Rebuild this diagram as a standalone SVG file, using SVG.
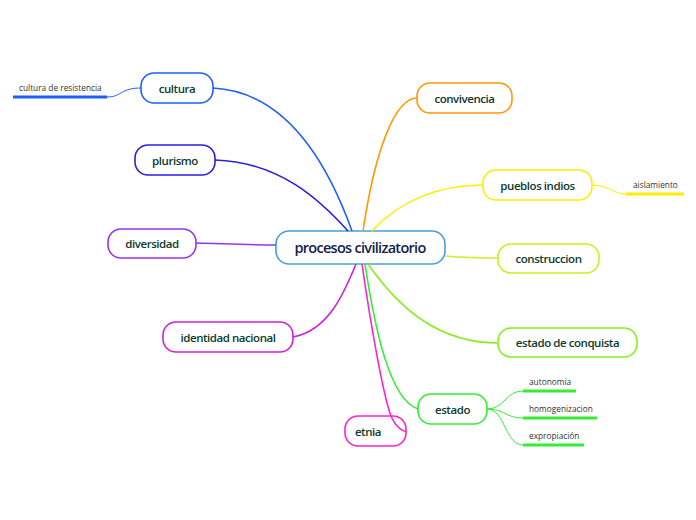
<svg xmlns="http://www.w3.org/2000/svg" width="696" height="520" viewBox="0 0 696 520">
<style>
.n{fill:#fff;stroke-width:1.6}
.t{font-family:"Open Sans","Noto Sans",sans-serif;font-size:11.5px;font-weight:600;fill:#0d3b2c;text-anchor:middle;dominant-baseline:central;letter-spacing:-0.45px}
.c{font-family:"Open Sans","Noto Sans",sans-serif;font-size:14.5px;font-weight:600;fill:#13214a;text-anchor:middle;dominant-baseline:central;letter-spacing:-0.7px}
.s{font-family:"Open Sans","Noto Sans",sans-serif;font-size:8.3px;fill:#333;dominant-baseline:central}
.l{fill:none;stroke-width:1.6}
.tl{fill:none;stroke-width:1}
.u{stroke-width:3}
</style>
<rect width="696" height="520" fill="#fff"/>
<g id="center"><rect class="n" stroke="#4a9fd8" x="276" y="231" width="169" height="33" rx="13"/><text class="c" x="360" y="247.5">procesos civilizatorio</text></g>
<g id="cultura"><rect class="n" stroke="#1f5fff" x="141" y="73" width="72" height="30" rx="13"/><text class="t" x="177" y="88">cultura</text></g>
<g id="cultura-de-resistencia"><text class="s" x="19" y="87">cultura de resistencia</text></g>
<g id="plurismo"><rect class="n" stroke="#2a1fe0" x="135" y="145" width="80" height="30" rx="13"/><text class="t" x="175" y="160">plurismo</text></g>
<g id="diversidad"><rect class="n" stroke="#9933ee" x="108" y="229" width="88" height="29" rx="13"/><text class="t" x="152" y="243.5">diversidad</text></g>
<g id="identidad-nacional"><rect class="n" stroke="#d020e0" x="163" y="322" width="130" height="30" rx="13"/><text class="t" x="228" y="337">identidad nacional</text></g>
<g id="etnia"><rect class="n" stroke="#ff22cc" x="345" y="416" width="61" height="30" rx="13"/><text class="t" x="368" y="431">etnia</text></g>
<g id="convivencia"><rect class="n" stroke="#ff9900" x="417" y="83" width="95" height="30" rx="13"/><text class="t" x="464.5" y="98">convivencia</text></g>
<g id="pueblos-indios"><rect class="n" stroke="#ffee00" x="483" y="170" width="109" height="30" rx="13"/><text class="t" x="537.5" y="185">pueblos indios</text></g>
<g id="aislamiento"><text class="s" x="633" y="184">aislamiento</text></g>
<g id="construccion"><rect class="n" stroke="#ccee22" x="498" y="244" width="101" height="29" rx="13"/><text class="t" x="548.5" y="258.5">construccion</text></g>
<g id="estado-de-conquista"><rect class="n" stroke="#88ee22" x="498" y="328" width="139" height="29" rx="13"/><text class="t" x="567.5" y="342.5">estado de conquista</text></g>
<g id="estado"><rect class="n" stroke="#33ee33" x="418" y="394" width="69" height="30" rx="13"/><text class="t" x="452.5" y="409">estado</text></g>
<g id="autonomia"><text class="s" x="529" y="381">autonomia</text></g>
<g id="homogenizacion"><text class="s" x="529" y="408">homogenizacion</text></g>
<g id="expropiacion"><text class="s" x="529" y="435">expropiación</text></g>
<g id="connectors">
<path class="l" stroke="#1f5fff" d="M213,88 C290,92 330,170 352,231"/>
<path class="l" stroke="#2a1fe0" d="M215,160 C280,162 320,200 348,231"/>
<path class="l" stroke="#9933ee" d="M196,243 C230,244 250,245 276,245"/>
<path class="l" stroke="#d020e0" d="M293,337 C330,330 345,290 356,264"/>
<path class="l" stroke="#ff22cc" d="M362,264 C370,320 383,395 391,416 C396,428 404,432 406,431"/>
<path class="l" stroke="#ff9900" d="M417,98 C395,98 375,150 363,231"/>
<path class="l" stroke="#ffee00" d="M483,185 C440,185 400,200 372,231"/>
<path class="l" stroke="#ccee22" d="M445,256 C470,258 480,258 498,258"/>
<path class="l" stroke="#88ee22" d="M498,343 C440,343 400,310 368,264"/>
<path class="l" stroke="#33ee33" d="M418,409 C390,400 375,330 365,264"/>
<path class="tl" stroke="#1f5fff" d="M141,88 C120,88 122,97 107,97"/>
<line class="u" stroke="#1f5fff" x1="13" y1="97" x2="107" y2="97"/>
<path class="tl" stroke="#ffee00" d="M592,185 C610,185 612,194 626,194"/>
<line class="u" stroke="#ffee00" x1="626" y1="194" x2="684" y2="194"/>
<path class="tl" stroke="#33ee33" d="M487,409 C505,409 505,391 523,391"/>
<path class="tl" stroke="#33ee33" d="M487,409 C505,409 505,418 523,418"/>
<path class="tl" stroke="#33ee33" d="M487,409 C505,409 505,445 523,445"/>
<line class="u" stroke="#33ee33" x1="523" y1="391" x2="576" y2="391"/>
<line class="u" stroke="#33ee33" x1="523" y1="418" x2="597" y2="418"/>
<line class="u" stroke="#33ee33" x1="523" y1="445" x2="584" y2="445"/>
</g>
</svg>
